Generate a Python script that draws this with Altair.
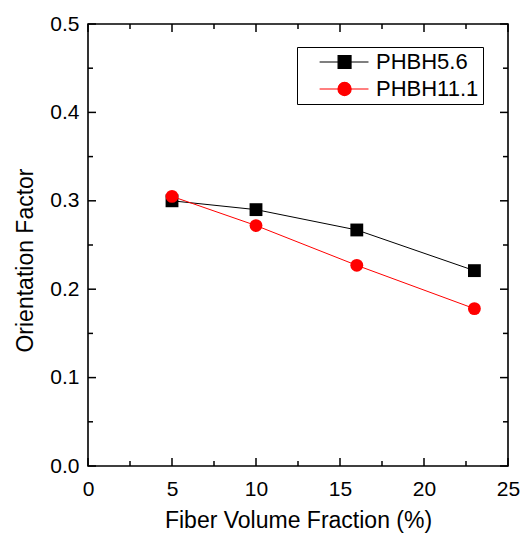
import altair as alt
import pandas as pd

# ---- data ----
fiber_fraction = [5, 10, 16, 23]
phbh56 = [0.300, 0.290, 0.267, 0.221]
phbh111 = [0.305, 0.272, 0.227, 0.178]
series_names = ["PHBH5.6", "PHBH11.1"]
series_colors = ["#000000", "#ff0000"]
series_shapes = ["square", "circle"]

x_major = [0, 5, 10, 15, 20, 25]
x_minor = [2.5, 7.5, 12.5, 17.5, 22.5]
y_major = [0.0, 0.1, 0.2, 0.3, 0.4, 0.5]
y_minor = [0.05, 0.15, 0.25, 0.35, 0.45]

rows = []
for name, vals in zip(series_names, [phbh56, phbh111]):
    for xv, yv in zip(fiber_fraction, vals):
        rows.append({"x": xv, "y": yv, "series": name})
df = pd.DataFrame(rows)

W, H = 420, 442
FONT = "Liberation Sans"

xscale = alt.Scale(domain=[0, 25], nice=False, zero=False)
yscale = alt.Scale(domain=[0, 0.5], nice=False, zero=False)

xaxis = alt.Axis(
    values=x_major, title="Fiber Volume Fraction (%)", ticks=False, tickSize=0,
    domain=False, grid=False, labelFontSize=21, labelPadding=12, labelFont=FONT,
    labelFlush=False, labelColor="black", titleFont=FONT, titleFontSize=23,
    titleFontWeight="normal", titleColor="black", titleBaseline="alphabetic",
    titleY=61, titleX=W / 2, titleAnchor="middle")
yaxis = alt.Axis(
    values=y_major, format=".1f", title="Orientation Factor", ticks=False, tickSize=0,
    domain=False, grid=False, labelFontSize=21, labelPadding=9, labelFont=FONT,
    labelFlush=False, labelColor="black", titleFont=FONT, titleFontSize=23,
    titleFontWeight="normal", titleColor="black", titleAngle=270,
    titleBaseline="alphabetic", titleX=-56, titleY=236, titleAlign="center",
    titleAnchor="middle")

def X(field):
    return alt.X(field, type="quantitative", scale=xscale, axis=xaxis)

def Y(field):
    return alt.Y(field, type="quantitative", scale=yscale, axis=yaxis)

color_scale = alt.Scale(domain=series_names, range=series_colors)

series_layers = []
for name, col, shp in zip(series_names, series_colors, series_shapes):
    sub = alt.Chart(df).transform_filter(alt.datum.series == name)
    series_layers.append(sub.mark_line(strokeWidth=1, color=col).encode(x=X("x"), y=Y("y")))
    series_layers.append(sub.mark_point(filled=True, size=165, opacity=1, shape=shp, color=col)
                         .encode(x=X("x"), y=Y("y")))

sq_path = "M1.17,0H8.69M4.01,-1H6.01V1H4.01Z"
ci_path = "M1.17,0H8.69M3.99,0A1.02,1.02,0,1,0,6.03,0A1.02,1.02,0,1,0,3.99,0Z"

leg = alt.Legend(title=None, orient="none", legendX=209, legendY=23,
                 strokeColor="black", fillColor="white", padding=4,
                 symbolSize=169, symbolStrokeWidth=1.1, symbolOpacity=1,
                 labelFont=FONT, labelFontSize=22, labelColor="black",
                 labelOffset=53, rowPadding=5)

legend_layer = alt.Chart(df).mark_point(filled=True, opacity=0, strokeWidth=1.1).encode(
    x=X("x"), y=Y("y"),
    fill=alt.Fill("series:N", scale=color_scale, legend=leg),
    stroke=alt.Stroke("series:N", scale=color_scale, legend=leg),
    shape=alt.Shape("series:N", scale=alt.Scale(domain=series_names, range=[sq_path, ci_path]), legend=leg),
)

def tick_layer(values, axis, side, length):
    f = "v_" + side
    d = pd.DataFrame({f: values})
    base = alt.Chart(d).mark_rule(color="black", strokeWidth=1.5)
    if axis == "x":
        if side == "bottom":
            return base.encode(x=X(f), y=alt.datum(y_major[0], scale=yscale), y2=alt.value(H - length))
        return base.encode(x=X(f), y=alt.datum(y_major[-1], scale=yscale), y2=alt.value(length))
    if side == "left":
        return base.encode(y=Y(f), x=alt.datum(x_major[0], scale=xscale), x2=alt.value(length))
    return base.encode(y=Y(f), x=alt.datum(x_major[-1], scale=xscale), x2=alt.value(W - length))

ticks = [
    tick_layer(x_major, "x", "bottom", 8), tick_layer(x_minor, "x", "bottom", 5),
    tick_layer(x_major, "x", "top", 8), tick_layer(x_minor, "x", "top", 5),
    tick_layer(y_major, "y", "left", 8), tick_layer(y_minor, "y", "left", 5),
    tick_layer(y_major, "y", "right", 8), tick_layer(y_minor, "y", "right", 5),
]

chart = alt.layer(legend_layer, *series_layers, *ticks).properties(
    width=W, height=H,
    autosize=alt.AutoSizeParams(type="none"),
    padding={"left": 88, "top": 24, "right": 14, "bottom": 71},
    background="white",
).configure_view(stroke="black", strokeWidth=1.6)

chart.save("out.html", embed_options={"renderer": "svg", "actions": False})
